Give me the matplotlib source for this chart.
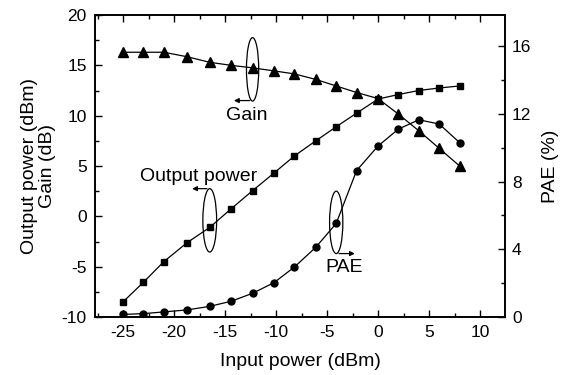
import matplotlib.pyplot as plt
from matplotlib.patches import Ellipse
from matplotlib.ticker import MultipleLocator

plt.rcParams['font.family'] = ['Liberation Sans', 'DejaVu Sans']
plt.rcParams['font.size'] = 12.5
plt.rcParams['axes.unicode_minus'] = False

# data
pin = [-25, -23, -21, -18.7, -16.5, -14.4, -12.3, -10.2, -8.2, -6.1,
       -4.1, -2.1, 0, 2, 4, 6, 8]
gain = [16.3, 16.3, 16.3, 15.85, 15.3, 15.0, 14.75, 14.45, 14.15, 13.6,
        12.95, 12.3, 11.7, 10.15, 8.5, 6.75, 5.0]
pout = [-8.5, -6.55, -4.5, -2.6, -1.1, 0.75, 2.55, 4.3, 6.0, 7.5,
        8.9, 10.25, 11.65, 12.1, 12.5, 12.75, 12.95]
pae = [0.15, 0.2, 0.3, 0.42, 0.63, 0.93, 1.4, 2.03, 2.95, 4.12,
       5.53, 8.65, 10.1, 11.1, 11.65, 11.4, 10.3]

fig = plt.figure(figsize=(5.67, 3.75), dpi=100)
ax = fig.add_axes([95 / 567, 1 - 317 / 375, 410 / 567, 302 / 375])
ax2 = ax.twinx()

ax.plot(pin, gain, 'k-', marker='^', ms=6.5, lw=0.9)
ax.plot(pin, pout, 'k-', marker='s', ms=4.5, lw=0.9)
ax2.plot(pin, pae, 'k-', marker='o', ms=5, lw=0.9)

ax.set_xlim(-27.75, 12.45)
ax.set_ylim(-10, 20)
ax2.set_ylim(0, 17.84)

ax.xaxis.set_major_locator(MultipleLocator(5))
ax.xaxis.set_minor_locator(MultipleLocator(2.5))
ax.yaxis.set_major_locator(MultipleLocator(5))
ax.yaxis.set_minor_locator(MultipleLocator(2.5))
ax2.yaxis.set_major_locator(MultipleLocator(4))
ax2.yaxis.set_minor_locator(MultipleLocator(2))

ax.tick_params(which='both', direction='in', top=True, right=False, width=1)
ax.tick_params(which='major', length=5, pad=6)
ax.tick_params(which='minor', length=3, labeltop=False)
ax2.tick_params(which='both', direction='in', width=1)
ax2.tick_params(which='major', length=5, pad=5)
ax2.tick_params(which='minor', length=3)
for a in (ax, ax2):
    for s in a.spines.values():
        s.set_linewidth(1.2)

ax.set_xlabel('Input power (dBm)', fontsize=14, labelpad=9)
ax.set_ylabel('Output power (dBm)\nGain (dB)', fontsize=14, linespacing=1.1,
              labelpad=4)
ax2.set_ylabel('PAE (%)', fontsize=14, labelpad=8)

# ellipse annotations
ax.add_patch(Ellipse((-12.3, 14.6), 1.2, 6.3, fill=False, lw=0.9))
ax.annotate('', xy=(-14.4, 11.5), xytext=(-12.3, 11.5),
            arrowprops=dict(arrowstyle='-|>', lw=0.9, color='k', mutation_scale=7))
ax.text(-12.9, 10.0, 'Gain', ha='center', va='center', fontsize=14)

ax.add_patch(Ellipse((-16.5, -0.4), 1.35, 6.3, fill=False, lw=0.9))
ax.annotate('', xy=(-18.5, 2.75), xytext=(-16.5, 2.75),
            arrowprops=dict(arrowstyle='-|>', lw=0.9, color='k', mutation_scale=7))
ax.text(-17.6, 4.0, 'Output power', ha='center', va='center', fontsize=14)

ax.add_patch(Ellipse((-4.1, -0.6), 1.3, 6.2, fill=False, lw=0.9))
ax.annotate('', xy=(-2.0, -3.7), xytext=(-4.1, -3.7),
            arrowprops=dict(arrowstyle='-|>', lw=0.9, color='k', mutation_scale=7))
ax.text(-3.3, -5.1, 'PAE', ha='center', va='center', fontsize=14)

fig.savefig('out.png', dpi=100)
